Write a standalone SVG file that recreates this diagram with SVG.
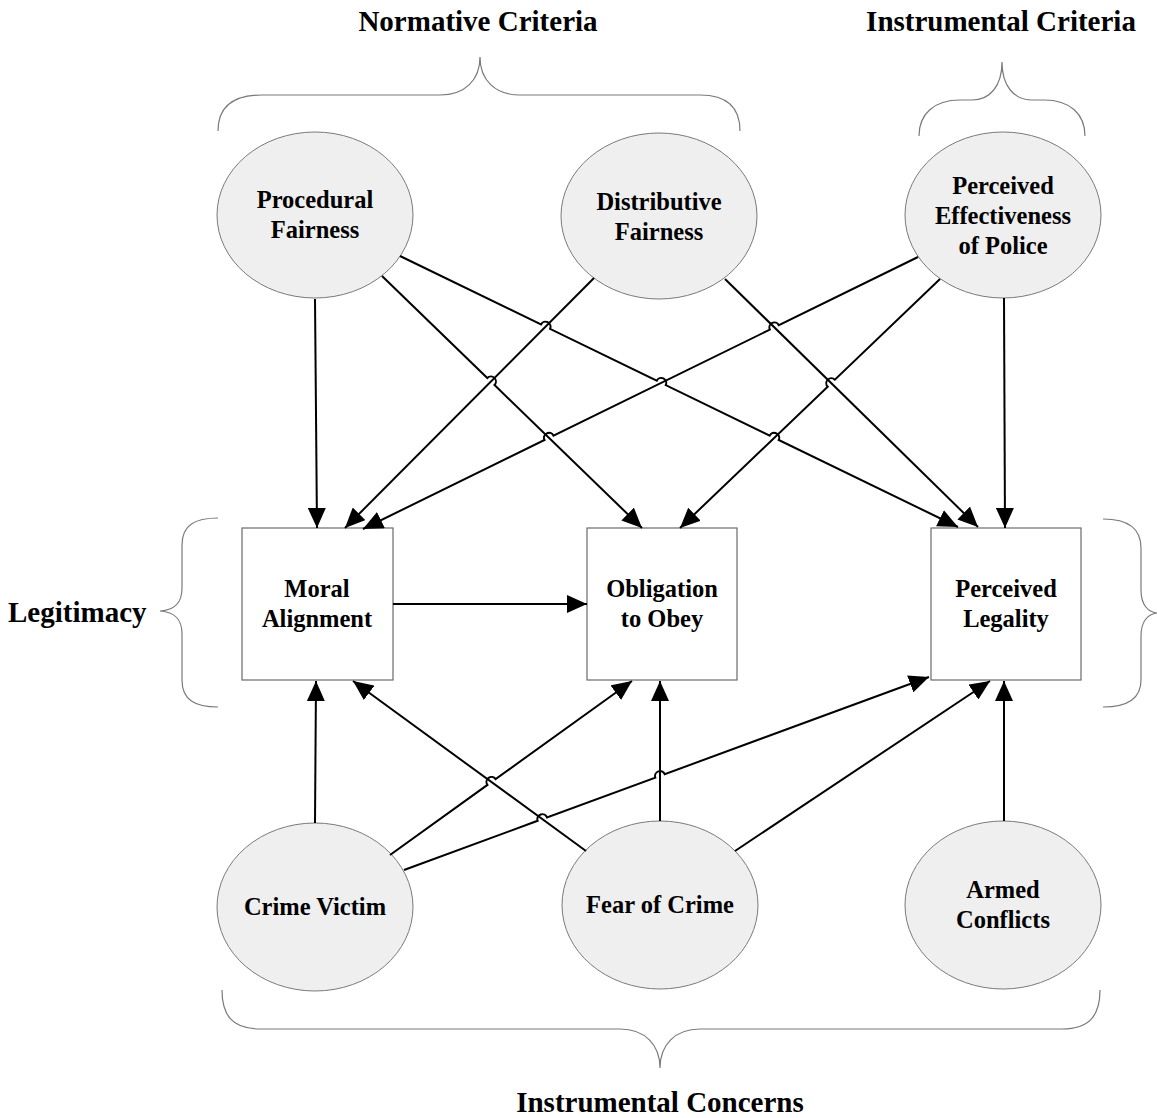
<svg xmlns="http://www.w3.org/2000/svg" width="1157" height="1118" viewBox="0 0 1157 1118">
<style>
.bg{fill:#ffffff}
.ell{fill:#efefef;stroke:#7a7a7a;stroke-width:1}
.box{fill:#ffffff;stroke:#6a6a6a;stroke-width:1.2}
.t{font-family:"Liberation Serif","Times New Roman",serif;font-weight:bold;font-size:24.5px;fill:#000;text-anchor:middle}
.h{font-family:"Liberation Serif","Times New Roman",serif;font-weight:bold;font-size:29px;fill:#000}
.brace{fill:none;stroke:#7a7a7a;stroke-width:1.2}
.c{fill:none;stroke:#000;stroke-width:2;marker-end:url(#ah)}
</style>
<defs>
<marker id="ah" markerUnits="userSpaceOnUse" markerWidth="20" markerHeight="18" refX="20" refY="9" orient="auto">
<path d="M0,0 L20,9 L0,18 z" fill="#000"/>
</marker>
</defs>
<rect class="bg" x="0" y="0" width="1157" height="1118"/>

<g id="labels">
<text class="h" x="478" y="31" text-anchor="middle">Normative Criteria</text>
<text class="h" x="1001" y="31" text-anchor="middle">Instrumental Criteria</text>
<text class="h" x="8" y="622">Legitimacy</text>
<text class="h" x="660" y="1112" text-anchor="middle">Instrumental Concerns</text>
</g>

<g id="braces">
<path class="brace" d="M218,131 C218,108 232,95 262,95 L440,95 C465,95 480,80 480,57 C480,80 495,95 520,95 L700,95 C728,95 740,108 740,131"/>
<path class="brace" d="M919,136 C919,114 934,100 960,100 L972,100 C990,100 1002,86 1002,62 C1002,86 1014,100 1032,100 L1044,100 C1070,100 1085,114 1085,136"/>
<path class="brace" d="M218,518 C195,518 182,525 182,545 L182,588 C182,603 175,610 160,611 C175,612 182,619 182,634 L182,680 C182,700 195,707 218,707"/>
<path class="brace" d="M1103,519 C1128,519 1141,528 1141,548 L1141,590 C1141,605 1148,612 1157,613 C1148,614 1141,621 1141,636 L1141,680 C1141,698 1128,707 1103,707"/>
<path class="brace" d="M222,990 C222,1015 232,1029 260,1029 L620,1029 C645,1029 660,1045 660,1068 C660,1045 675,1029 700,1029 L1062,1029 C1090,1029 1100,1015 1100,990"/>
</g>

<g id="procedural-fairness">
<ellipse class="ell" cx="315" cy="215" rx="98" ry="83"/>
<text class="t" x="315" y="208">Procedural</text>
<text class="t" x="315" y="238">Fairness</text>
</g>
<g id="distributive-fairness">
<ellipse class="ell" cx="659" cy="216" rx="98" ry="83"/>
<text class="t" x="659" y="210">Distributive</text>
<text class="t" x="659" y="240">Fairness</text>
</g>
<g id="perceived-effectiveness">
<ellipse class="ell" cx="1003" cy="215" rx="98" ry="83"/>
<text class="t" x="1003" y="194">Perceived</text>
<text class="t" x="1003" y="224">Effectiveness</text>
<text class="t" x="1003" y="254">of Police</text>
</g>
<g id="moral-alignment">
<rect class="box" x="242" y="528" width="151" height="152"/>
<text class="t" x="317" y="597">Moral</text>
<text class="t" x="317" y="627">Alignment</text>
</g>
<g id="obligation-to-obey">
<rect class="box" x="587" y="528" width="150" height="152"/>
<text class="t" x="662" y="597">Obligation</text>
<text class="t" x="662" y="627">to Obey</text>
</g>
<g id="perceived-legality">
<rect class="box" x="931" y="528" width="150" height="152"/>
<text class="t" x="1006" y="597">Perceived</text>
<text class="t" x="1006" y="627">Legality</text>
</g>
<g id="crime-victim">
<ellipse class="ell" cx="315" cy="907" rx="98" ry="84"/>
<text class="t" x="315" y="915">Crime Victim</text>
</g>
<g id="fear-of-crime">
<ellipse class="ell" cx="660" cy="905" rx="98" ry="84"/>
<text class="t" x="660" y="913">Fear of Crime</text>
</g>
<g id="armed-conflicts">
<ellipse class="ell" cx="1003" cy="905" rx="98" ry="84"/>
<text class="t" x="1003" y="898">Armed</text>
<text class="t" x="1003" y="928">Conflicts</text>
</g>

<g id="connectors">
<path class="c" d="M315,299 L317,528"/>
<path class="c" d="M382,276 L487.3,378.0 A5,5 0 0 1 494.5,385.0 L642,528"/>
<path class="c" d="M400,256 L541.0,324.5 A5,5 0 0 1 550.0,328.9 L656.7,380.7 A5,5 0 0 1 665.7,385.1 L769.7,435.6 A5,5 0 0 1 778.7,440.0 L958,527"/>
<path class="c" d="M594,278 L345,528"/>
<path class="c" d="M725,279 L978,527"/>
<path class="c" d="M918,257 L778.9,325.2 A5,5 0 0 0 769.9,329.6 L553.5,435.6 A5,5 0 0 0 544.5,440.0 L363,529"/>
<path class="c" d="M940,279 L834.9,379.7 A5,5 0 0 0 827.7,386.7 L680,528"/>
<path class="c" d="M1004,298 L1005,528"/>
<path class="c" d="M393,604 L587,604"/>
<path class="c" d="M315,823 L316,681"/>
<path class="c" d="M390,855 L487.4,784.9 A5,5 0 0 1 495.6,779.1 L632,681"/>
<path class="c" d="M404,870 L537.6,820.8 A5,5 0 0 1 547.0,817.4 L655.3,777.6 A5,5 0 0 1 664.7,774.2 L929,677"/>
<path class="c" d="M586,851 L353,681"/>
<path class="c" d="M660,821 L660,681"/>
<path class="c" d="M735,851 L990,681"/>
<path class="c" d="M1004,821 L1004,681"/>
</g>
</svg>
